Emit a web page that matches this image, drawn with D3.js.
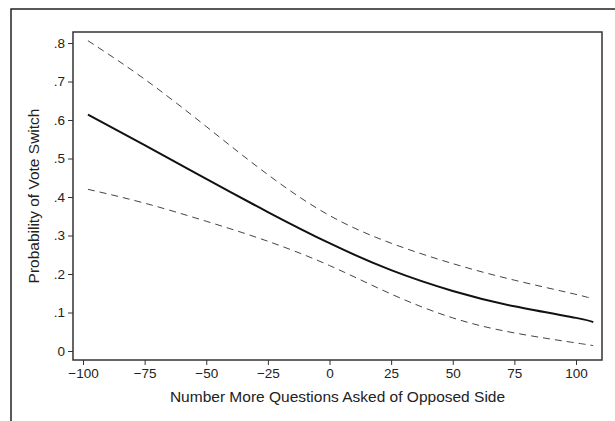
<!DOCTYPE html>
<html>
<head>
<meta charset="utf-8">
<script src="https://cdn.jsdelivr.net/npm/d3@7"></script>
<style>
  body { margin: 0; background: #fff; }
  text { font-family: "Liberation Sans", Arial, sans-serif; fill: #222; }
</style>
</head>
<body>
<svg id="chart" width="615" height="421"></svg>
<script>
// values
const questions = [-98, -75, -50, -25, 0, 25, 50, 75, 100, 107];
const estimate  = [0.614, 0.535, 0.447, 0.361, 0.280, 0.210, 0.156, 0.116, 0.086, 0.075];
const upperCI   = [0.806, 0.706, 0.583, 0.458, 0.352, 0.280, 0.227, 0.184, 0.147, 0.134];
const lowerCI   = [0.420, 0.384, 0.337, 0.285, 0.222, 0.148, 0.086, 0.047, 0.021, 0.014];
const xTicks = [-100, -75, -50, -25, 0, 25, 50, 75, 100];
const yTicks = [0, 0.1, 0.2, 0.3, 0.4, 0.5, 0.6, 0.7, 0.8];

const box = { left: 73, top: 32, right: 602, bottom: 360 };

const svg = d3.select("#chart");

// outer frame (only left and top edges show in the crop)
svg.append("path")
  .attr("d", "M11,421 V9 H615")
  .attr("fill", "none")
  .attr("stroke", "#222")
  .attr("stroke-width", 1.5);

const x = d3.scaleLinear().domain([-100, 100]).range([83, 576]);
const y = d3.scaleLinear().domain([0, 0.8]).range([351, 43]);

// plot box
svg.append("rect")
  .attr("x", box.left).attr("y", box.top)
  .attr("width", box.right - box.left)
  .attr("height", box.bottom - box.top)
  .attr("fill", "none")
  .attr("stroke", "#333")
  .attr("stroke-width", 1.5);

// x axis
const xAxis = svg.append("g")
  .attr("transform", "translate(0," + box.bottom + ")")
  .call(d3.axisBottom(x).tickValues(xTicks).tickSize(5).tickPadding(3)
    .tickFormat(d => d < 0 ? "\u2212" + Math.abs(d) : d));
xAxis.select(".domain").remove();
xAxis.selectAll("line").attr("stroke", "#333");
xAxis.selectAll("text").style("font-size", "13.5px").attr("fill", "#222");

// y axis
const yAxis = svg.append("g")
  .attr("transform", "translate(" + box.left + ",0)")
  .call(d3.axisLeft(y).tickValues(yTicks).tickSize(5).tickPadding(3)
    .tickFormat(d => d === 0 ? "0" : d3.format(".1f")(d).replace(/^0/, "")));
yAxis.select(".domain").remove();
yAxis.selectAll("line").attr("stroke", "#333");
yAxis.selectAll("text").style("font-size", "13.5px").attr("fill", "#222");

// axis titles
svg.append("text")
  .attr("x", (box.left + box.right) / 2)
  .attr("y", 402)
  .attr("text-anchor", "middle")
  .style("font-size", "15.5px")
  .text("Number More Questions Asked of Opposed Side");

svg.append("text")
  .attr("transform", "translate(39," + (box.top + box.bottom) / 2 + ") rotate(-90)")
  .attr("text-anchor", "middle")
  .style("font-size", "15.5px")
  .text("Probability of Vote Switch");

const line = d3.line()
  .x(d => x(d[0]))
  .y(d => y(d[1]))
  .curve(d3.curveNatural);

function series(vals) { return questions.map((q, i) => [q, vals[i]]); }

svg.append("path")
  .attr("d", line(series(upperCI)))
  .attr("fill", "none")
  .attr("stroke", "#444")
  .attr("stroke-width", 1)
  .attr("stroke-dasharray", "7,5");

svg.append("path")
  .attr("d", line(series(lowerCI)))
  .attr("fill", "none")
  .attr("stroke", "#444")
  .attr("stroke-width", 1)
  .attr("stroke-dasharray", "7,5");

svg.append("path")
  .attr("d", line(series(estimate)))
  .attr("fill", "none")
  .attr("stroke", "#111")
  .attr("stroke-width", 2);
</script>
</body>
</html>
